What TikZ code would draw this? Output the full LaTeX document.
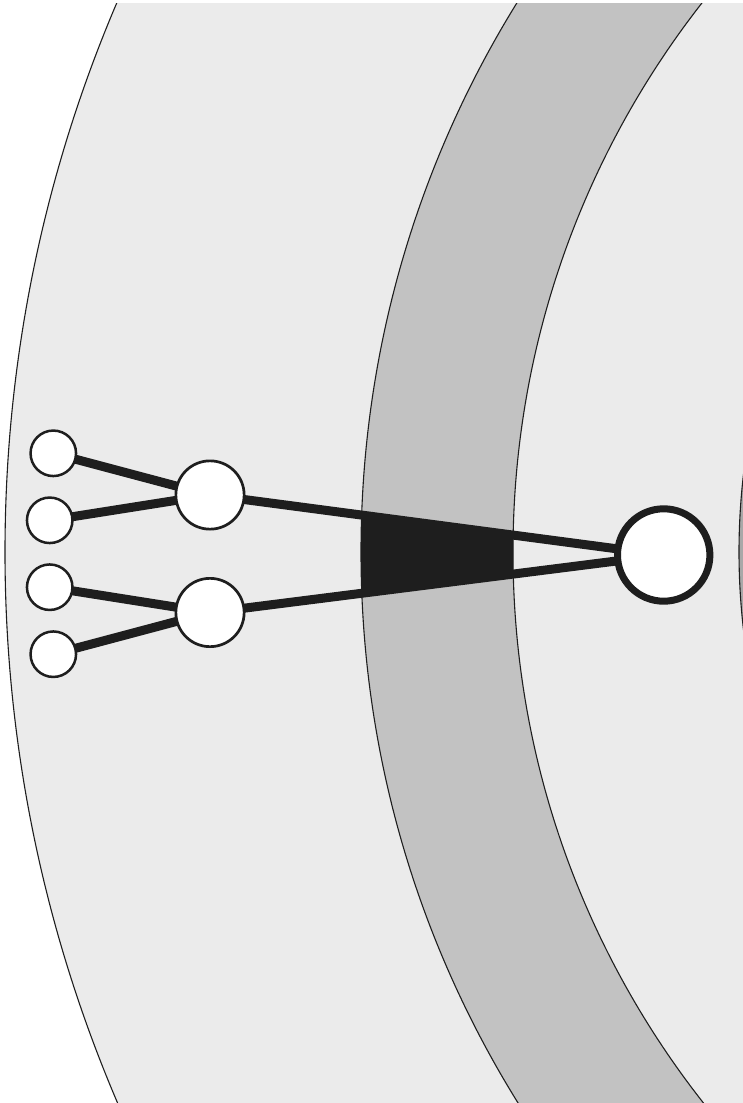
\documentclass[tikz,border=0pt]{standalone}
\definecolor{ringlight}{HTML}{EBEBEB}
\definecolor{ringband}{HTML}{C2C2C2}
\definecolor{ringcore}{HTML}{A8A8A8}
\definecolor{ink}{HTML}{1E1E1E}
\pgfdeclarelayer{rings}
\pgfdeclarelayer{wires}
\pgfsetlayers{rings,wires,main}
\begin{document}
\begin{tikzpicture}[x=1pt,y=-1pt,
  ringline/.style={draw=ink,line width=1.1pt},
  leaf/.style={circle,draw=ink,fill=white,line width=2.5pt,minimum size=45.5pt,inner sep=0pt},
  hub/.style={circle,draw=ink,fill=white,line width=2.7pt,minimum size=68.3pt,inner sep=0pt},
  root/.style={circle,draw=ink,fill=white,line width=7pt,minimum size=92.4pt,inner sep=0pt},
  wire/.style={draw=ink,line width=9pt}]
\useasboundingbox (0,0) rectangle (743,1103);
\coordinate (C) at (1405,552);
\node[leaf] (s1) at (53.3,453.3) {};
\node[leaf] (s2) at (49.7,520.3) {};
\node[leaf] (s3) at (49.7,587.2) {};
\node[leaf] (s4) at (53.3,654.2) {};
\node[hub] (h1) at (210,495) {};
\node[hub] (h2) at (210,612.5) {};
\node[root] (r) at (663.7,555) {};
\begin{pgfonlayer}{rings}
  \clip (0,3) rectangle (743,1103);
  \draw[ringline,fill=ringlight] (C) circle[radius=1400];
  \draw[ringline,fill=ringband] (C) circle[radius=1044];
  \draw[ringline,fill=ringlight] (C) circle[radius=892];
  \draw[ringline,fill=ringcore] (C) circle[radius=666];
  \begin{scope}[even odd rule]
    \clip (C) circle[radius=1044] (C) circle[radius=892];
    \fill[ink] (h1.center) -- (r.center) -- (h2.center) -- cycle;
  \end{scope}
\end{pgfonlayer}
\begin{pgfonlayer}{wires}
  \draw[wire] (s1.center) -- (h1.center);
  \draw[wire] (s2.center) -- (h1.center);
  \draw[wire] (s3.center) -- (h2.center);
  \draw[wire] (s4.center) -- (h2.center);
  \draw[wire] (h1.center) -- (r.center);
  \draw[wire] (h2.center) -- (r.center);
\end{pgfonlayer}
\end{tikzpicture}
\end{document}
